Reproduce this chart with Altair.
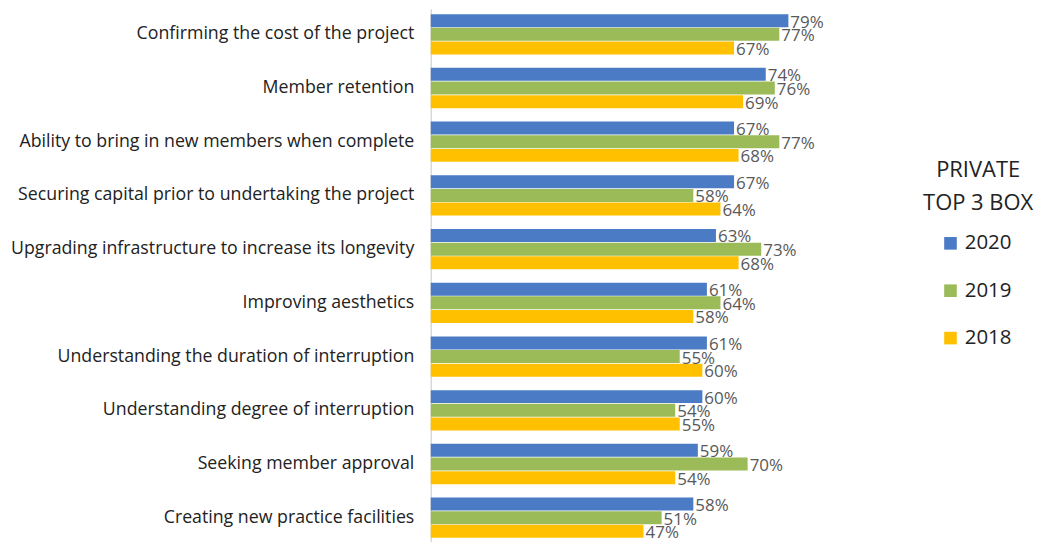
import altair as alt
import pandas as pd

categories = [
    "Confirming the cost of the project",
    "Member retention",
    "Ability to bring in new members when complete",
    "Securing capital prior to undertaking the project",
    "Upgrading infrastructure to increase its longevity",
    "Improving aesthetics",
    "Understanding the duration of interruption",
    "Understanding degree of interruption",
    "Seeking member approval",
    "Creating new practice facilities",
]
years = ["2020", "2019", "2018"]
v2020 = [79, 74, 67, 67, 63, 61, 61, 60, 59, 58]
v2019 = [77, 76, 77, 58, 73, 64, 55, 54, 70, 51]
v2018 = [67, 69, 68, 64, 68, 58, 60, 55, 54, 47]
colors = ["#4A7BC4", "#9BBB59", "#FFC000"]

rows = []
for yr, vals in zip(years, [v2020, v2019, v2018]):
    for c, v in zip(categories, vals):
        rows.append({"category": c, "year": yr, "value": v, "label": f"{v}%"})
df = pd.DataFrame(rows)

FONT = "Open Sans"

y_enc = alt.Y(
    "category:N",
    sort=categories,
    scale=alt.Scale(paddingInner=0.25, paddingOuter=0.1),
    axis=alt.Axis(
        title=None,
        ticks=False,
        domain=True,
        domainColor="#d9d9d9",
        domainWidth=1.5,
        labelFont=FONT,
        labelFontSize=17.8,
        labelColor="#222222",
        labelPadding=17,
        labelLimit=500,
        minExtent=424,
        maxExtent=424,
    ),
)
x_enc = alt.X(
    "value:Q",
    scale=alt.Scale(domain=[0, 100], nice=False),
    axis=None,
)
yoff = alt.YOffset("year:N", sort=years, scale=alt.Scale(paddingInner=0.05))

bars = alt.Chart(df).mark_bar().encode(
    y=y_enc,
    x=x_enc,
    yOffset=yoff,
    color=alt.Color(
        "year:N",
        sort=years,
        scale=alt.Scale(domain=years, range=colors),
        legend=alt.Legend(
            title=None,
            orient="none",
            legendX=511,
            legendY=225,
            symbolType="square",
            symbolSize=160,
            symbolStrokeWidth=0,
            labelFont=FONT,
            labelFontSize=20.5,
            labelColor="#222222",
            labelOffset=4,
            rowPadding=26.5,
        ),
    ),
)

texts = alt.Chart(df).mark_text(
    align="left", baseline="middle", dx=2, dy=2, font=FONT, fontSize=17, color="#595959"
).encode(
    y=alt.Y("category:N", sort=categories),
    x=alt.X("value:Q"),
    yOffset=yoff,
    text="label:N",
)

title = alt.Chart(pd.DataFrame({"t": ["PRIVATE\nTOP 3 BOX"]})).mark_text(
    align="center", baseline="middle", font=FONT, fontSize=22, color="#222222",
    lineBreak="\n", lineHeight=33,
).encode(
    x=alt.value(549), y=alt.value(162), text="t:N"
)

chart = (
    alt.layer(bars, texts, title)
    .properties(width=454, height=536, padding=0)
    .configure_view(stroke=None)
)

chart.save("out.html", embed_options={"renderer": "svg", "actions": False})
